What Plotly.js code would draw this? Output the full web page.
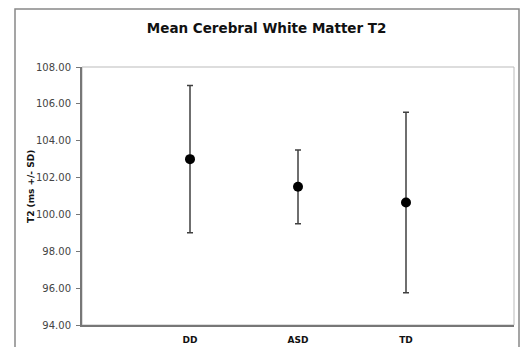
<!DOCTYPE html>
<html>
<head>
<meta charset="utf-8">
<script src="https://cdn.plot.ly/plotly-3.0.1.min.js"></script>
<style>
  html, body { margin: 0; padding: 0; background: #fff; }
  #chart { width: 528px; height: 347px; }
</style>
</head>
<body>
<div id="chart"></div>
<script>
// Data
const groups = ["DD", "ASD", "TD"];
const groupPos = [1, 2, 3];
const meanT2 = [103.0, 101.5, 100.65];
const sdPlus = [4.0, 2.0, 4.9];
const sdMinus = [4.0, 2.0, 4.9];
const yTickVals = [94, 96, 98, 100, 102, 104, 106, 108];
const yTickText = ["94.00", "96.00", "98.00", "100.00", "102.00", "104.00", "106.00", "108.00"];

const trace = {
  type: "scatter",
  mode: "markers",
  x: groupPos,
  y: meanT2,
  marker: { color: "#000000", size: 10 },
  error_y: {
    type: "data",
    symmetric: false,
    array: sdPlus,
    arrayminus: sdMinus,
    color: "#404040",
    thickness: 1.5,
    width: 3
  },
  hoverinfo: "skip",
  showlegend: false
};

const layout = {
  width: 528,
  height: 347,
  margin: { l: 82, r: 14, t: 67, b: 22 },
  paper_bgcolor: "#ffffff",
  plot_bgcolor: "#ffffff",
  font: { family: "DejaVu Sans, Verdana, sans-serif", color: "#222" },
  title: {
    text: "<b>Mean Cerebral White Matter T2</b>",
    font: { size: 13.5, color: "#111", family: "DejaVu Sans, Verdana, sans-serif" },
    x: 0.505, xref: "container", xanchor: "center",
    y: 1 - 28 / 347, yref: "container", yanchor: "middle"
  },
  xaxis: {
    range: [0, 4],
    tickmode: "array",
    tickvals: groupPos,
    ticktext: groups.map(g => "<b>" + g + "</b>"),
    tickfont: { size: 9, color: "#111" },
    ticks: "",
    ticklabelstandoff: 5,
    showgrid: false,
    zeroline: false,
    showline: true,
    linecolor: "#777777",
    linewidth: 2,
    fixedrange: true
  },
  yaxis: {
    range: [94, 108],
    tickmode: "array",
    tickvals: yTickVals,
    ticktext: yTickText,
    tickfont: { size: 10, color: "#444" },
    ticks: "outside",
    ticklen: 4,
    tickcolor: "#777777",
    tickwidth: 1,
    ticklabelstandoff: 3,
    showgrid: false,
    zeroline: false,
    showline: true,
    linecolor: "#777777",
    linewidth: 2,
    fixedrange: true
  },
  annotations: [
    {
      text: "<b>T2 (ms +/- SD)</b>",
      textangle: -90,
      xref: "paper", yref: "paper",
      x: (31 - 82) / 432, y: (325 - 187) / 258,
      xanchor: "center", yanchor: "middle",
      showarrow: false,
      font: { size: 9, color: "#111" }
    }
  ],
  shapes: [
    {
      type: "rect", xref: "paper", yref: "paper",
      x0: 0, x1: 1, y0: 0, y1: 1,
      line: { color: "#bbbbbb", width: 1 },
      layer: "below"
    },
    {
      type: "rect", xref: "paper", yref: "paper",
      x0: (15 - 82) / 432, x1: (519 - 82) / 432,
      y0: (325 - 352) / 258, y1: (325 - 9) / 258,
      line: { color: "#888888", width: 1.5 },
      layer: "below"
    }
  ]
};

Plotly.newPlot("chart", [trace], layout, { displayModeBar: false, staticPlot: true });
</script>
</body>
</html>
